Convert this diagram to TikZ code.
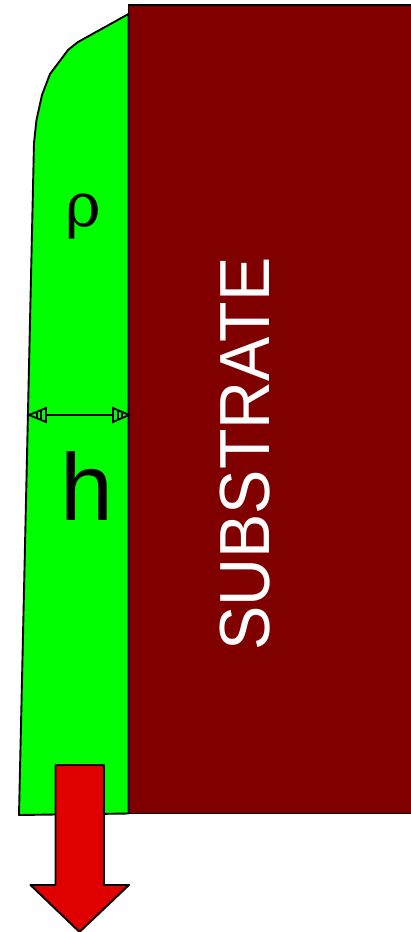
\documentclass[tikz,border=0pt]{standalone}
\usepackage{fontspec}
\setmainfont{Liberation Sans}
\newfontfamily\rhofont{DejaVu Serif}
\begin{document}
\begin{tikzpicture}[x=1pt,y=-1pt,
  outline/.style={draw=black,line width=1.9pt,line join=round},
  dimhead/.style={draw=black,line width=1.8pt,line join=miter,fill=film}]
\useasboundingbox (0,0) rectangle (411,932);
\definecolor{film}{RGB}{0,255,0}
\definecolor{subst}{RGB}{128,0,0}
\definecolor{flow}{RGB}{224,0,0}
\path[outline,fill=subst] (128.5,5) -- (412,5) -- (412,813.5) -- (128.5,813.5) -- cycle;
\path[outline,fill=film] (128.5,14) -- (78,42) -- (68,50) -- (50,74) -- (42,95) -- (36.5,120) -- (34,143)
  -- (19,815) -- (128.5,813.5) -- cycle;
\node[font=\fontsize{95}{95}\selectfont,inner sep=0pt,anchor=base] (hlabel) at (87,520) {h};
\node[font=\rhofont\fontsize{61}{61}\selectfont,inner sep=0pt,anchor=base] (rholabel) at (83,226) {ρ};
\node[font=\fontsize{71}{71}\selectfont,text=white,inner sep=0pt,rotate=90,xscale=0.935,anchor=base] (sublabel) at (269,454) {SUBSTRATE};
\coordinate (dimL) at (29,415);
\coordinate (dimR) at (129,415);
\draw[line width=1.2pt,black] (dimL) -- (dimR);
\path[dimhead] (dimL) -- (46,408) -- (46,422) -- cycle;
\path[dimhead] (dimR) -- (113,408) -- (113,422) -- cycle;
\draw[line width=1.2pt] (41,410) -- (41,420) (37,412) -- (37,418) (118,410) -- (118,420) (122,412) -- (122,418);
\path[outline,fill=flow] (55.5,765) -- (104,765) -- (104,885) -- (129,885) -- (79.5,932) -- (30.5,885) -- (55.5,885) -- cycle;
\end{tikzpicture}
\end{document}
